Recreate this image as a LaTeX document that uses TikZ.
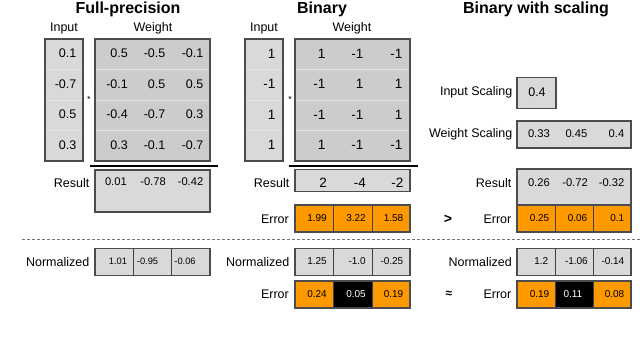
\documentclass[tikz,border=0pt]{standalone}
\usepackage{fontspec}
\setmainfont{Liberation Sans}
\begin{document}
\begin{tikzpicture}[x=1pt,y=-1pt,
  box/.style={draw=black!70,line width=1.1pt,inner sep=0pt,outer sep=0pt,anchor=north west},
  lightbox/.style={box,fill=black!15},
  darkbox/.style={box,fill=black!20},
  orangebox/.style={box,fill=orange1},
  ttl/.style={font=\bfseries\fontsize{16}{18}\selectfont,inner sep=0pt},
  hdr/.style={font=\fontsize{12.5}{14}\selectfont,inner sep=0pt},
  lbl/.style={font=\fontsize{12.5}{14}\selectfont,inner sep=0pt,anchor=east},
  vmat/.style={font=\fontsize{12.5}{14}\selectfont,inner sep=0pt,anchor=east},
  vbin/.style={font=\fontsize{13.5}{15}\selectfont,inner sep=0pt,anchor=east},
  vres/.style={font=\fontsize{11.2}{13}\selectfont,inner sep=0pt,anchor=east},
  vsml/.style={font=\fontsize{10}{12}\selectfont,inner sep=0pt,anchor=east},
  vtiny/.style={font=\fontsize{9.3}{11}\selectfont,inner sep=0pt},
  sep/.style={draw=black!10,line width=0.5pt},
  rule/.style={draw=black,line width=1.2pt},
  div/.style={draw=black!75,line width=1pt}
]
\definecolor{orange1}{HTML}{FF9900}
\useasboundingbox (0,0) rectangle (640,342);

% ---------- titles ----------
\node[ttl] (t1) at (128,9.5) {Full-precision};
\node[ttl] (t2) at (322,9.5) {Binary};
\node[ttl] (t3) at (536,9.5) {Binary with scaling};

% ---------- Full precision ----------
\node[hdr] (fpin) at (64,28) {Input};
\node[hdr] (fpwt) at (153,28) {Weight};
\node[lightbox,minimum width=38pt,minimum height=122pt] (fpI) at (45,39) {};
\node[darkbox,minimum width=115pt,minimum height=122pt] (fpW) at (95,39) {};
\foreach \yy in {69.5,100,130.5}{
  \draw[sep] (46,\yy) -- (82,\yy);
  \draw[sep] (96,\yy) -- (209,\yy);
}
\node[font=\small,inner sep=0pt] (fpstar) at (89,99) {*};
\foreach \v [count=\i] in {0.1,-0.7,0.5,0.3}
  \node[vmat] (fpi\i) at (76.5,{23+30.5*\i}) {\v};
\foreach \a/\b/\c [count=\i] in {0.5/-0.5/-0.1,-0.1/0.5/0.5,-0.4/-0.7/0.3,0.3/-0.1/-0.7}{
  \node[vmat] (fpwa\i) at (128,{23+30.5*\i}) {\a};
  \node[vmat] (fpwb\i) at (165.5,{23+30.5*\i}) {\b};
  \node[vmat] (fpwc\i) at (203.5,{23+30.5*\i}) {\c};
}
\coordinate (fpl1) at (90,166); \coordinate (fpl2) at (218,166);
\draw[rule] (fpl1) -- (fpl2);
\node[lightbox,minimum width=115pt,minimum height=42pt] (fpR) at (95,170) {};
\node[lbl] (fpRl) at (89.5,183) {Result};
\node[vres] (fpr1) at (127,182) {0.01};
\node[vres] (fpr2) at (166,182) {-0.78};
\node[vres] (fpr3) at (203.5,182) {-0.42};

\node[lightbox,minimum width=115pt,minimum height=27pt] (fpN) at (95,248.5) {};
\draw[div] (133,248.5) -- (133,275.5);
\draw[div] (171,248.5) -- (171,275.5);
\node[lbl] (fpNl) at (89.5,262) {Normalized};
\node[vtiny] (fpn1) at (118,261.5) {1.01};
\node[vtiny] (fpn2) at (147.5,261.5) {-0.95};
\node[vtiny] (fpn3) at (185,261.5) {-0.06};

% ---------- Binary ----------
\node[hdr] (bin) at (264,28) {Input};
\node[hdr] (bwt) at (352,28) {Weight};
\node[lightbox,minimum width=38pt,minimum height=122pt] (bI) at (245,39) {};
\node[darkbox,minimum width=115pt,minimum height=122pt] (bW) at (295,39) {};
\foreach \yy in {69.5,100,130.5}{
  \draw[sep] (246,\yy) -- (282,\yy);
  \draw[sep] (296,\yy) -- (409,\yy);
}
\node[font=\small,inner sep=0pt] (bstar) at (290,99) {*};
\foreach \v [count=\i] in {1,-1,1,1}
  \node[vbin] (bi\i) at (275.5,{23+30.5*\i}) {\v};
\foreach \a/\b/\c [count=\i] in {1/-1/-1,-1/1/1,-1/-1/1,1/-1/-1}{
  \node[vbin] (bwa\i) at (325.5,{23+30.5*\i}) {\a};
  \node[vbin] (bwb\i) at (363.5,{23+30.5*\i}) {\b};
  \node[vbin] (bwc\i) at (402.5,{23+30.5*\i}) {\c};
}
\coordinate (bl1) at (289,166); \coordinate (bl2) at (418,166);
\draw[rule] (bl1) -- (bl2);
\node[lightbox,minimum width=115pt,minimum height=22pt] (bR) at (295,169.5) {};
\node[lbl] (bRl) at (289.5,183) {Result};
\node[vbin] (br1) at (327,183) {2};
\node[vbin] (br2) at (366,183) {-4};
\node[vbin] (br3) at (403.5,183) {-2};

\node[orangebox,minimum width=115pt,minimum height=27pt] (bE) at (295,205) {};
\draw[div] (333.5,205) -- (333.5,232);
\draw[div] (372,205) -- (372,232);
\node[lbl] (bEl) at (289,219) {Error};
\node[vsml] (be1) at (327,218.5) {1.99};
\node[vsml] (be2) at (366,218.5) {3.22};
\node[vsml] (be3) at (403.5,218.5) {1.58};

\node[lightbox,minimum width=115pt,minimum height=27pt] (bN) at (295,248.5) {};
\draw[div] (333.5,248.5) -- (333.5,275.5);
\draw[div] (372,248.5) -- (372,275.5);
\node[lbl] (bNl) at (289.5,262) {Normalized};
\node[vsml] (bn1) at (327,261.5) {1.25};
\node[vsml] (bn2) at (366,261.5) {-1.0};
\node[vsml] (bn3) at (403.5,261.5) {-0.25};

\node[orangebox,minimum width=115pt,minimum height=27pt] (bE2) at (295,281) {};
\fill[black] (333.5,281) rectangle (372,308);
\draw[div] (333.5,281) -- (333.5,308);
\draw[div] (372,281) -- (372,308);
\draw[box,fill=none] (295,281) rectangle (410,308);
\node[lbl] (bE2l) at (289,294.5) {Error};
\node[vsml] (bf1) at (327,294.5) {0.24};
\node[vsml,text=white] (bf2) at (366,294.5) {0.05};
\node[vsml] (bf3) at (403.5,294.5) {0.19};

% ---------- Binary with scaling ----------
\node[lightbox,minimum width=39pt,minimum height=31pt] (sIS) at (517,77.5) {};
\node[lbl] (sISl) at (512.5,92) {Input Scaling};
\node[font=\fontsize{12.5}{14}\selectfont,inner sep=0pt] (sis1) at (537,92) {0.4};
\node[lightbox,minimum width=114pt,minimum height=27pt] (sWS) at (517,121) {};
\node[lbl] (sWSl) at (512.5,134.5) {Weight Scaling};
\node[vres] (sws1) at (550,133.5) {0.33};
\node[vres] (sws2) at (587.5,133.5) {0.45};
\node[vres] (sws3) at (624.5,133.5) {0.4};

\node[lightbox,minimum width=114pt,minimum height=36pt] (sR) at (517,169) {};
\node[lbl] (sRl) at (511.5,183) {Result};
\node[vres] (sr1) at (550,183) {0.26};
\node[vres] (sr2) at (588,183) {-0.72};
\node[vres] (sr3) at (624.5,183) {-0.32};

\node[orangebox,minimum width=114pt,minimum height=27pt] (sE) at (517,205) {};
\draw[div] (555,205) -- (555,232);
\draw[div] (593,205) -- (593,232);
\node[lbl] (sEl) at (511.5,219) {Error};
\node[vsml] (se1) at (549.5,218.5) {0.25};
\node[vsml] (se2) at (587.5,218.5) {0.06};
\node[vsml] (se3) at (624.5,218.5) {0.1};
\node[font=\bfseries\fontsize{14}{16}\selectfont,inner sep=0pt] (gt) at (448,219) {>};

\node[lightbox,minimum width=114pt,minimum height=27pt] (sN) at (517,248.5) {};
\draw[div] (555,248.5) -- (555,275.5);
\draw[div] (593,248.5) -- (593,275.5);
\node[lbl] (sNl) at (512,262) {Normalized};
\node[vsml] (sn1) at (548.5,261.5) {1.2};
\node[vsml] (sn2) at (588,261.5) {-1.06};
\node[vsml] (sn3) at (624.5,261.5) {-0.14};

\node[orangebox,minimum width=114pt,minimum height=27pt] (sE2) at (517,281) {};
\fill[black] (555,281) rectangle (593,308);
\draw[div] (555,281) -- (555,308);
\draw[div] (593,281) -- (593,308);
\draw[box,fill=none] (517,281) rectangle (631,308);
\node[lbl] (sE2l) at (511.5,294.5) {Error};
\node[vsml] (sf1) at (549.5,294.5) {0.19};
\node[vsml,text=white] (sf2) at (582.5,294.5) {0.11};
\node[vsml] (sf3) at (624.5,294.5) {0.08};
\node[font=\bfseries\fontsize{12}{14}\selectfont,inner sep=0pt] (approx) at (449,294) {≈};

% ---------- dashed separator ----------
\coordinate (d1) at (22,239); \coordinate (d2) at (640,239);
\draw[black!55,line width=0.8pt,dash pattern=on 3pt off 2pt] (d1) -- (d2);
\end{tikzpicture}
\end{document}
